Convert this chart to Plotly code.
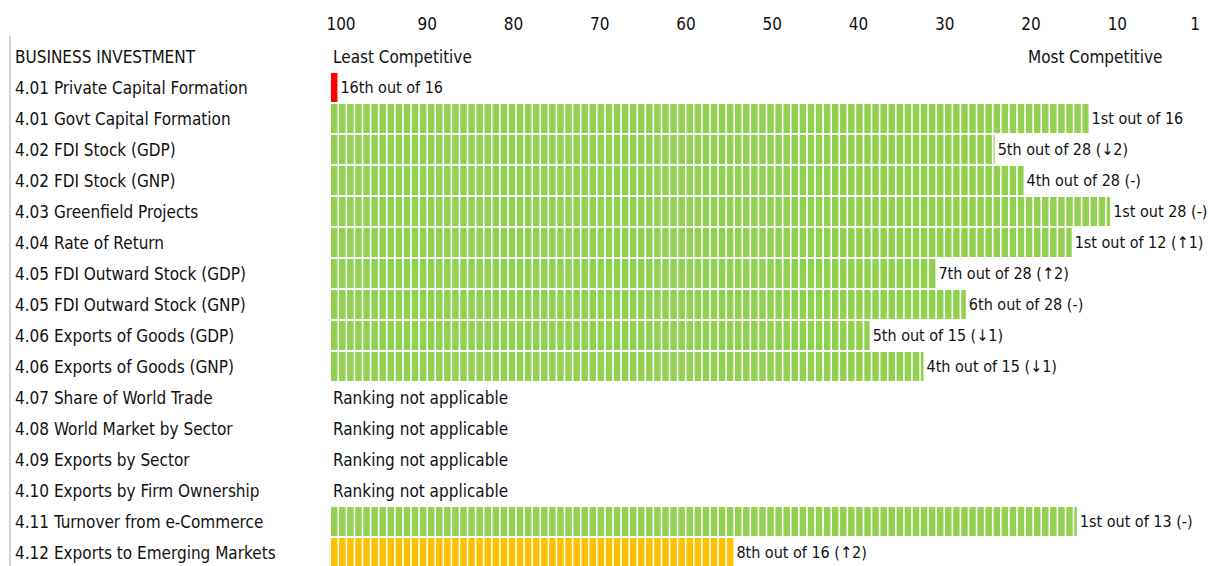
import plotly.graph_objects as go

# ---------------- data ----------------
section_title = "BUSINESS INVESTMENT"
metrics = [
    "4.01 Private Capital Formation",
    "4.01 Govt Capital Formation",
    "4.02 FDI Stock (GDP)",
    "4.02 FDI Stock (GNP)",
    "4.03 Greenfield Projects",
    "4.04 Rate of Return",
    "4.05 FDI Outward Stock (GDP)",
    "4.05 FDI Outward Stock (GNP)",
    "4.06 Exports of Goods (GDP)",
    "4.06 Exports of Goods (GNP)",
    "4.07 Share of World Trade",
    "4.08 World Market by Sector",
    "4.09 Exports by Sector",
    "4.10 Exports by Firm Ownership",
    "4.11 Turnover from e-Commerce",
    "4.12 Exports to Emerging Markets",
]
ranks = [16, 1, 5, 4, 1, 1, 7, 6, 5, 4, None, None, None, None, 1, 8]
totals = [16, 16, 28, 28, 28, 12, 28, 28, 15, 15, None, None, None, None, 13, 16]
rank_labels = [
    "16th out of 16",
    "1st out of 16",
    "5th out of 28 (↓2)",
    "4th out of 28 (-)",
    "1st out 28 (-)",
    "1st out of 12 (↑1)",
    "7th out of 28 (↑2)",
    "6th out of 28 (-)",
    "5th out of 15 (↓1)",
    "4th out of 15 (↓1)",
    None, None, None, None,
    "1st out of 13 (-)",
    "8th out of 16 (↑2)",
]
not_applicable_text = "Ranking not applicable"
tick_labels = ["100", "90", "80", "70", "60", "50", "40", "30", "20", "10", "1"]
tick_values = [100, 90, 80, 70, 60, 50, 40, 30, 20, 10, 1]
left_caption = "Least Competitive"
right_caption = "Most Competitive"

# ---------------- styling ----------------
FONT = "DejaVu Sans Condensed, sans-serif"
FS = 17
FS_BAR = 16
TXT = "#111111"
GREEN = "#92D050"
AMBER = "#FFC000"
RED = "#FF0000"

W, H = 1208, 566
ML, MT = 327, 41
PX_PER_UNIT = 8.08
SEG_W = 0.8          # filled part of each one-unit segment
plot_w = W - ML
x0 = -(331 - ML) / PX_PER_UNIT
x_range = [x0, x0 + plot_w / PX_PER_UNIT]

# tick axis: value 100 at px 341, value 1 at px 1195
p100, p1 = 341 - ML, 1195 - ML
slope = (p1 - p100) / 99.0
t_left = 100 + p100 / slope
t_right = 1 - (plot_w - p1) / slope

rows_y = list(range(1, len(metrics) + 1))

seg_y, seg_base, seg_len, seg_col, seg_txt = [], [], [], [], []
for i, (r, n, lab) in enumerate(zip(ranks, totals, rank_labels)):
    if r is None:
        continue
    score = (n - r) / n * 100.0
    if score < 25:
        col = RED
    elif score < 60:
        col = AMBER
    else:
        col = GREEN
    k = 0
    while True:
        length = min(SEG_W, score - k) if score > 0 else SEG_W
        last = (k + 1 >= score)
        seg_y.append(rows_y[i])
        seg_base.append(k)
        seg_len.append(length)
        seg_col.append(col)
        seg_txt.append(lab if last else "")
        if last:
            break
        k += 1

fig = go.Figure()
fig.add_trace(go.Bar(
    orientation="h",
    y=seg_y, x=seg_len, base=seg_base,
    marker=dict(color=seg_col, line=dict(width=0)),
    text=seg_txt, textposition="outside", constraintext="none",
    textfont=dict(family=FONT, size=FS_BAR, color=TXT),
    cliponaxis=False,
    width=29 / 31,
    hoverinfo="skip",
    showlegend=False,
))
# invisible trace to anchor the ranking tick axis
fig.add_trace(go.Scatter(x=[tick_values[0], tick_values[-1]], y=[0, 0], xaxis="x2",
                         mode="markers", marker=dict(opacity=0), hoverinfo="skip",
                         showlegend=False))

ann = []
xl = (13 - ML) / plot_w
ann.append(dict(x=xl, xref="paper", y=0, yref="y", text=section_title,
                xanchor="left", yanchor="middle", showarrow=False))
for i, m in enumerate(metrics):
    ann.append(dict(x=xl, xref="paper", y=rows_y[i], yref="y", text=m,
                    xanchor="left", yanchor="middle", showarrow=False))
    if ranks[i] is None:
        ann.append(dict(x=0, xref="x", y=rows_y[i], yref="y", text=not_applicable_text,
                        xanchor="left", yanchor="middle", showarrow=False))
ann.append(dict(x=0, xref="x", y=0, yref="y", text=left_caption,
                xanchor="left", yanchor="middle", showarrow=False))
ann.append(dict(x=(1164 - ML) / plot_w, xref="paper", y=0, yref="y", text=right_caption,
                xanchor="right", yanchor="middle", showarrow=False))

pitch = 31.0
plot_h = H - MT
y_span = plot_h / pitch

xline = (10 - ML) / plot_w
fig.update_layout(
    width=W, height=H,
    margin=dict(l=ML, r=0, t=MT, b=0, pad=0),
    paper_bgcolor="white", plot_bgcolor="white",
    font=dict(family=FONT, size=FS, color=TXT),
    barmode="overlay",
    xaxis=dict(range=x_range, visible=False, fixedrange=True),
    xaxis2=dict(range=[t_left, t_right], overlaying="x", side="top",
                tickvals=tick_values, ticktext=tick_labels, showgrid=False,
                zeroline=False, showline=False, ticks="", ticklabelstandoff=7,
                tickfont=dict(family=FONT, size=FS, color=TXT)),
    yaxis=dict(range=[-0.5 + y_span, -0.5], visible=False, fixedrange=True),
    annotations=ann,
    shapes=[dict(type="line", xref="paper", yref="paper",
                 x0=xline, x1=xline, y0=0, y1=1.01,
                 line=dict(color="#D5D5D5", width=2))],
)

fig.write_html(
    "out.html",
    config={"displayModeBar": False, "staticPlot": True},
    post_script="document.body.style.margin='0';document.body.style.overflow='hidden';"
                "document.documentElement.style.overflow='hidden';",
)
